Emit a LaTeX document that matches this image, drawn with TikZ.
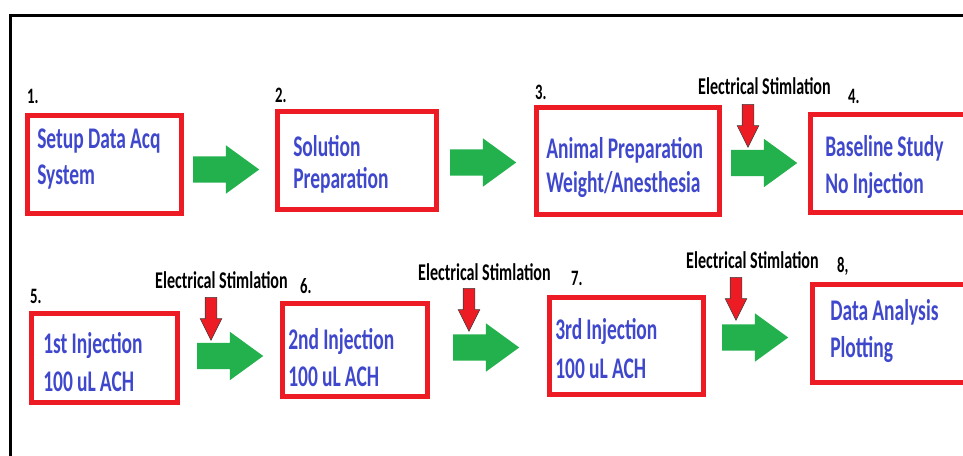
\documentclass[tikz,border=0pt]{standalone}
\usepackage{fontspec}
\setmainfont{Carlito}[FakeStretch=0.67]
\newfontfamily\stepfont{Carlito}[FakeStretch=0.65,WordSpace=0.95]
\usetikzlibrary{shapes.arrows}
\definecolor{boxred}{HTML}{ED1C24}
\definecolor{stepblue}{HTML}{3F48CC}
\definecolor{flowgreen}{HTML}{22B14C}
\tikzset{stepbox/.style={draw=boxred,line width=4.5pt,anchor=north west,inner ysep=0pt,align=flush left,text=stepblue,font=\stepfont\bfseries\fontsize{30}{36}\selectfont},
num/.style={anchor=base west,inner sep=0pt,font=\bfseries\fontsize{22}{24}\selectfont},
stim/.style={anchor=base west,inner sep=0pt,font=\bfseries\fontsize{24}{28}\selectfont},
flow/.style={single arrow,fill=flowgreen,anchor=tail,inner xsep=0pt,inner ysep=13pt,minimum height=66pt,single arrow head extend=11pt,single arrow tip angle=72},
shock/.style={single arrow,draw=black!75,line width=0.6pt,fill=boxred,shape border rotate=270,anchor=tail,inner sep=5.5pt,minimum height=43pt,single arrow head extend=5pt,single arrow tip angle=53},
frame/.style={line width=3pt}}

\begin{document}
\begin{tikzpicture}[x=1pt,y=-1pt]
\useasboundingbox (0,0) rectangle (963,455);
\draw[frame] (10,470) -- (10,15.5) -- (990,15.5);
% first row
\node[stepbox,inner xsep=10pt,text width=134pt,text height=33pt,text depth=65pt] (s1) at (25,113) {Setup Data Acq\\System};
\node[stepbox,inner xsep=16pt,text width=127pt,text height=45pt,text depth=53pt] (s2) at (275,109) {Solution\\[-4pt]Preparation};
\node[stepbox,inner xsep=10pt,text width=163pt,text height=51pt,text depth=56pt] (s3) at (534,105) {Animal Preparation\\[-2pt]Weight/Anesthesia};
\node[stepbox,inner xsep=15pt,text width=160pt,text height=42pt,text depth=56pt] (s4) at (808,112) {Baseline Study\\[1pt]No Injection};
\node[num] (n1) at (27,103) {1.};
\node[num] (n2) at (275,102) {2.};
\node[num] (n3) at (535,99) {3.};
\node[num] (n4) at (848,103) {4.};
\node[stim] (st1) at (698,94) {Electrical Stimlation};
\node[flow] (f1) at (193,169.5) {};
\node[flow] (f2) at (450,162.5) {};
\node[flow] (f3) at (731,163) {};
\node[shock] (e1) at (748,104) {};
% second row
\node[stepbox,inner xsep=12pt,text width=122pt,text height=40pt,text depth=49pt] (s5) at (29,311) {1st Injection\\[2pt]100 uL ACH};
\node[stepbox,inner xsep=6pt,text width=133pt,text height=46pt,text depth=47pt] (s6) at (280,301) {2nd Injection\\[1pt]100 uL ACH};
\node[stepbox,inner xsep=6pt,text width=142pt,text height=42pt,text depth=55pt] (s7) at (547,295) {3rd Injection\\[3pt]100 uL ACH};
\node[stepbox,inner xsep=18pt,text width=154pt,text height=36pt,text depth=62pt] (s8) at (810,282) {Data Analysis\\[1pt]Plotting};
\node[num] (n5) at (30,303) {5.};
\node[num] (n6) at (300,293) {6.};
\node[num] (n7) at (571,285) {7.};
\node[num] (n8) at (837,272) {8,};
\node[stim] (st2) at (155,288) {Electrical Stimlation};
\node[stim] (st3) at (418,280) {Electrical Stimlation};
\node[stim] (st4) at (686,268) {Electrical Stimlation};
\node[flow] (f4) at (197,356) {};
\node[flow] (f5) at (453,347.5) {};
\node[flow] (f6) at (722,337.5) {};
\node[shock] (e2) at (211,297) {};
\node[shock] (e3) at (469,288) {};
\node[shock] (e4) at (736,277) {};
\end{tikzpicture}
\end{document}
